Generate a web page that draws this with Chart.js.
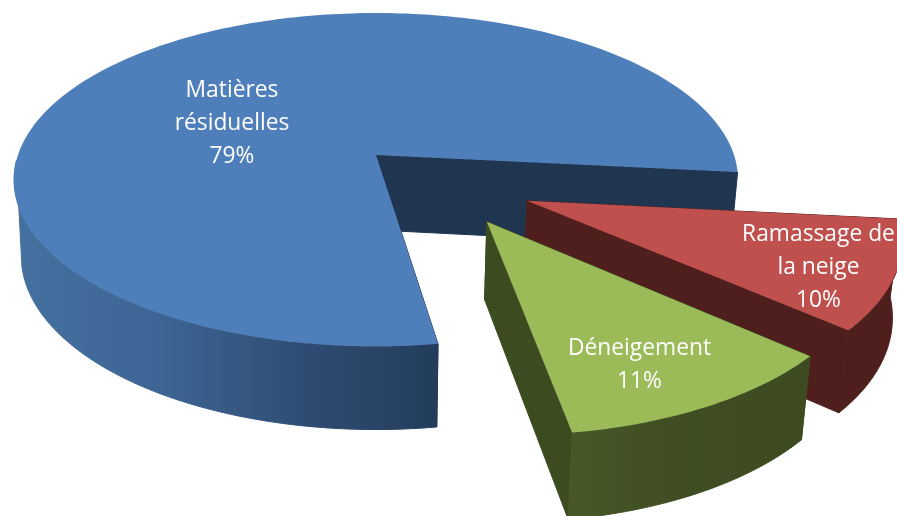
<!DOCTYPE html>
<html>
<head>
<meta charset="utf-8">
<style>
html,body{margin:0;padding:0;background:#fff;overflow:hidden}
#wrap{width:897px;height:516px;position:relative}
</style>
<script src="https://cdn.jsdelivr.net/npm/chart.js@4/dist/chart.umd.js"></script>
</head>
<body>
<div id="wrap"><canvas id="pie" width="897" height="516"></canvas></div>
<script>
// Budget shares, in percent
const categories = [["Matières","résiduelles"],["Ramassage de","la neige"],["Déneigement"]];
const shares = [79, 10, 11];

// Look of each slice
const topColors = ["#4e7fbb", "#bf504d", "#9bbb59"];
const radialColors = ["#1f3550", "#4f1f1e", "#3d4b21"];
const rimStops = [
  ["#44719f", "#3e6595", "#2f4e74", "#233c5b"],
  ["#4f1f1e", "#4f1f1e"],
  ["#475727", "#3f4d22", "#3e4b21"]
];
const explode = [[0, 0], [0.405, 0.27], [0.292, 0.386]];
const sliceScale = [1, 0.985, 0.985];
const labelAnchors = [[232, 91], [818.5, 235], [639.5, 349]];

// Tilted view of the pie plane
const view = { cx: 376, cy: 155, rx: 358, ry: 163, persp: 0.148, depth: 75, depthPower: 0.65, shrink: 0.98 };

function project(u, v, lowered) {
  const s = 1 / (1 - view.persp * v);
  let x = view.cx + view.rx * u * s;
  let y = view.cy + view.ry * v * s;
  if (lowered) {
    x = view.cx + (x - view.cx) * view.shrink;
    y += view.depth * Math.pow(s, view.depthPower);
  }
  return [x, y];
}

function arcPoints(a0, a1, off, scale, lowered) {
  const n = Math.max(2, Math.ceil(Math.abs(a1 - a0) / 0.02));
  const pts = [];
  for (let i = 0; i <= n; i++) {
    const a = a0 + (a1 - a0) * i / n;
    pts.push(project(off[0] + scale * Math.cos(a), off[1] + scale * Math.sin(a), lowered));
  }
  return pts;
}

function fillPoly(ctx, pts, style, seal) {
  ctx.beginPath();
  pts.forEach((p, i) => i ? ctx.lineTo(p[0], p[1]) : ctx.moveTo(p[0], p[1]));
  ctx.closePath();
  ctx.fillStyle = style;
  ctx.fill();
  if (seal) {
    // Closes the hairline between neighbouring wall polygons
    ctx.strokeStyle = style;
    ctx.lineWidth = 1;
    ctx.stroke();
  }
}

// Paints the slices as an extruded, exploded disc from the angles computed by the arc elements
const extrudedPie = {
  id: "extrudedPie",
  beforeDatasetsDraw(chart) {
    const ctx = chart.ctx;
    const arcs = chart.getDatasetMeta(0).data;
    const rad = Math.PI / 180;
    [0, 1, 2].forEach(i => {
      const { startAngle: a0, endAngle: a1 } = arcs[i];
      const off = explode[i];
      const k = sliceScale[i];
      const edge = a => [off[0] + k * Math.cos(a), off[1] + k * Math.sin(a)];
      const apex = project(off[0], off[1], false);
      const apexLow = project(off[0], off[1], true);

      // Cut faces
      fillPoly(ctx, [apex, project(...edge(a1), false), project(...edge(a1), true), apexLow], radialColors[i], true);
      fillPoly(ctx, [apex, project(...edge(a0), false), project(...edge(a0), true), apexLow], radialColors[i], true);

      // Outer wall on the viewer's side; the big slice wraps round to its left silhouette
      const wraps = a0 < 170 * rad;
      const topEnd = wraps ? 178 * rad : a1;
      const lowEnd = wraps ? 168 * rad : a1;
      const rimTop = arcPoints(a0, topEnd, off, k, false);
      const rimLow = arcPoints(a0, lowEnd, off, k, true);
      const xs = rimTop.concat(rimLow).map(p => p[0]);
      const grad = ctx.createLinearGradient(Math.min(...xs), 0, Math.max(...xs), 0);
      const stops = rimStops[i];
      stops.forEach((c, n) => grad.addColorStop(n / (stops.length - 1), c));
      fillPoly(ctx, rimTop.concat(rimLow.reverse()), grad, true);

      // Top face
      fillPoly(ctx, [apex].concat(arcPoints(a0, a1, off, k, false)), topColors[i]);
    });

    // Slice captions
    ctx.fillStyle = "#ffffff";
    ctx.textAlign = "center";
    ctx.textBaseline = "middle";
    ctx.font = '22.8px "Open Sans", sans-serif';
    [0, 1, 2].forEach(i => {
      const lines = categories[i].concat(shares[i] + "%");
      lines.forEach((line, n) => ctx.fillText(line, labelAnchors[i][0], labelAnchors[i][1] + n * 33));
    });
    return false;
  }
};

new Chart(document.getElementById("pie"), {
  type: "pie",
  data: {
    labels: categories.map(c => c.join(" ")),
    datasets: [{ data: shares, backgroundColor: topColors, borderWidth: 0 }]
  },
  options: {
    responsive: false,
    animation: false,
    rotation: 171.5,
    plugins: { legend: { display: false }, tooltip: { enabled: false } }
  },
  plugins: [extrudedPie]
});
</script>
</body>
</html>
